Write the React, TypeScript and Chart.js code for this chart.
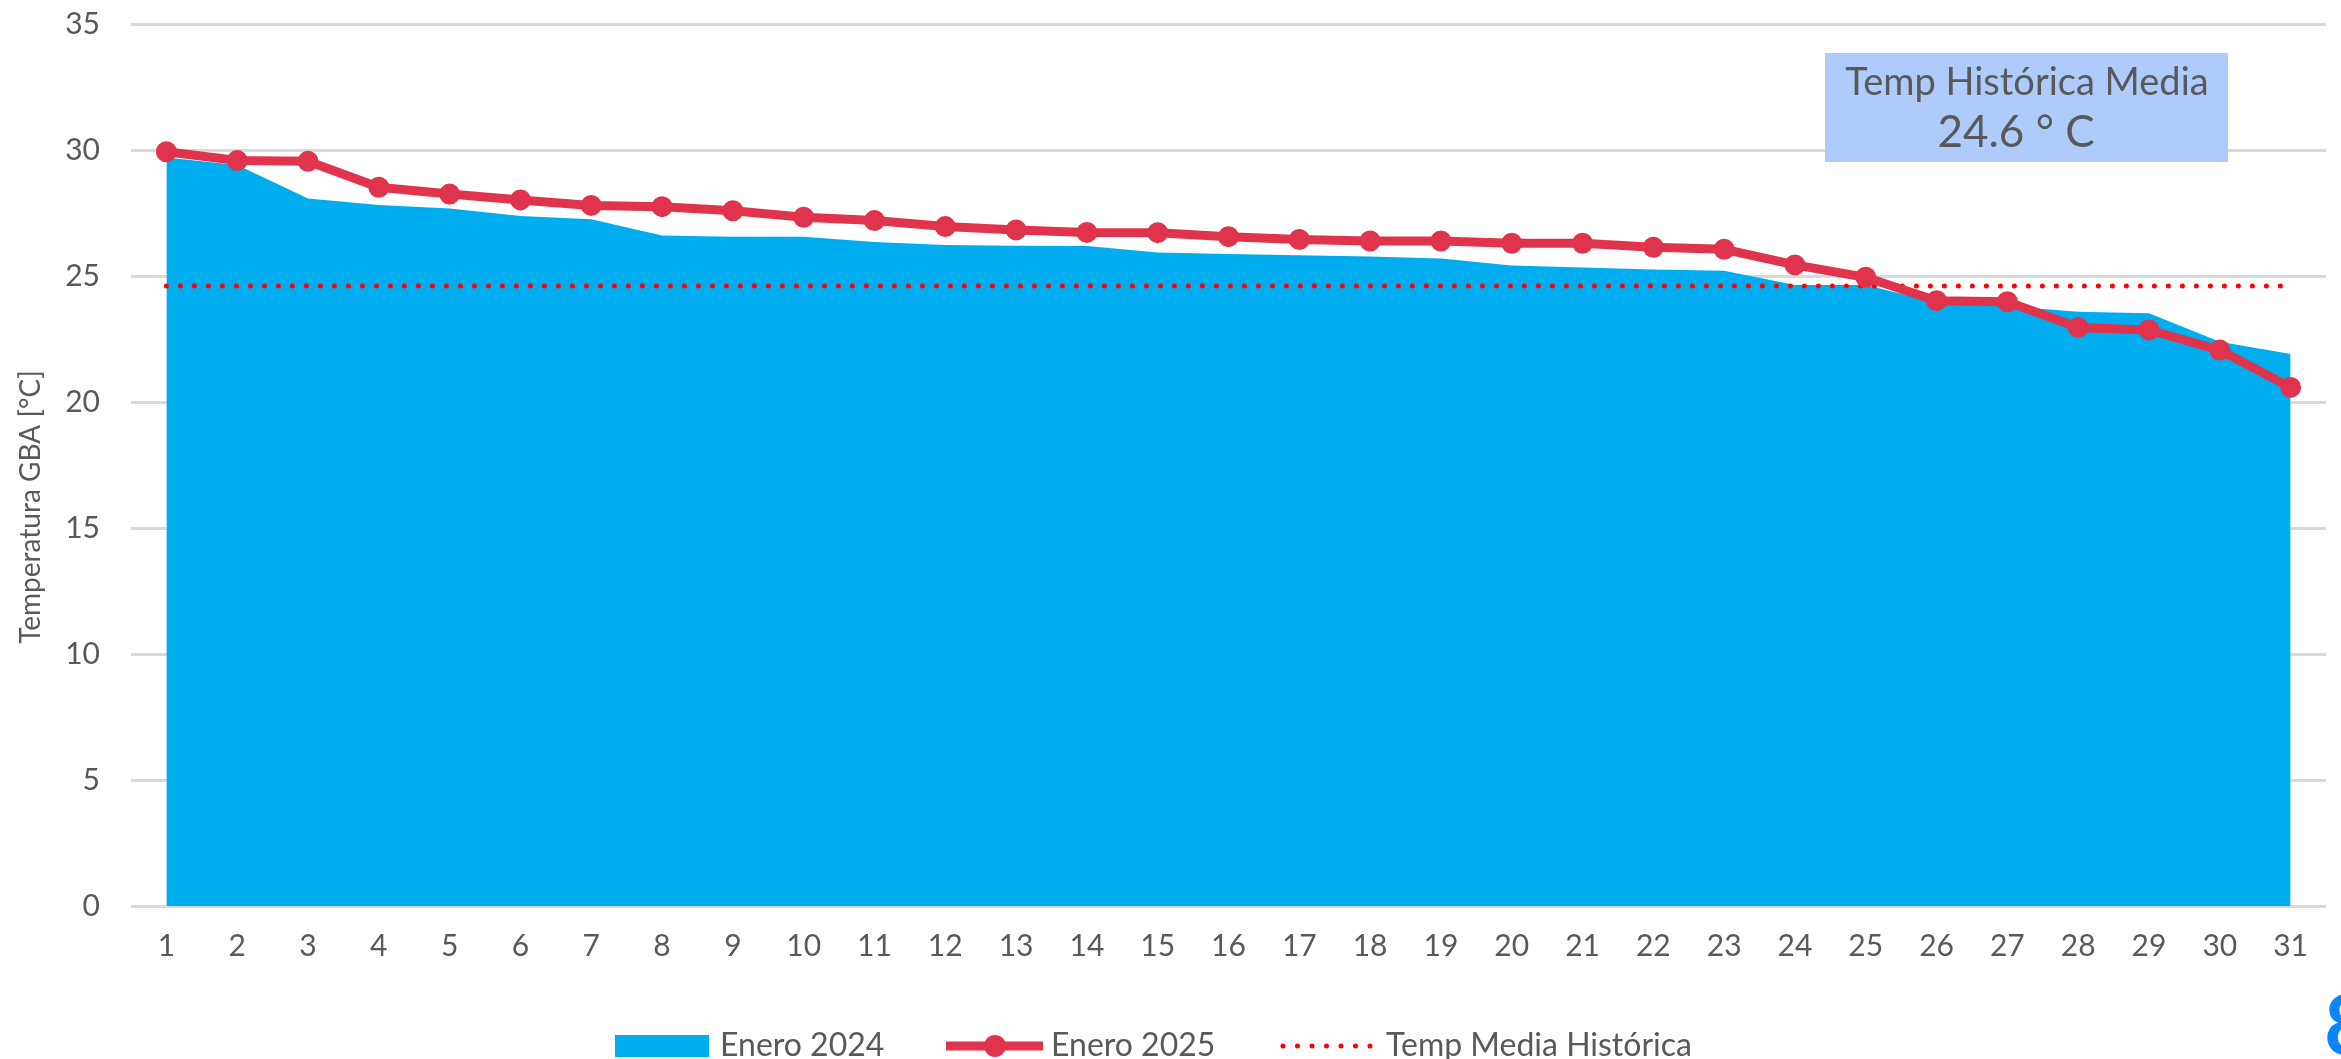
import React, { useEffect, useRef } from 'react';
import { Chart, registerables } from 'chart.js';

Chart.register(...registerables);

const days = ['1', '2', '3', '4', '5', '6', '7', '8', '9', '10', '11', '12', '13', '14', '15', '16', '17', '18', '19', '20', '21', '22', '23', '24', '25', '26', '27', '28', '29', '30', '31'];

const enero2024 = [29.7, 29.4, 28.08, 27.82, 27.68, 27.38, 27.25, 26.61, 26.56, 26.56, 26.35, 26.23, 26.2, 26.19, 25.93, 25.87, 25.82, 25.77, 25.69, 25.42, 25.34, 25.26, 25.21, 24.64, 24.64, 23.95, 23.8, 23.58, 23.52, 22.39, 21.9];

const enero2025 = [29.93, 29.58, 29.55, 28.52, 28.25, 28.02, 27.8, 27.75, 27.59, 27.33, 27.2, 26.96, 26.83, 26.73, 26.72, 26.56, 26.45, 26.39, 26.39, 26.3, 26.3, 26.14, 26.06, 25.44, 24.95, 24.02, 23.98, 22.96, 22.86, 22.06, 20.58];

const tempMediaHistorica = [24.6, 24.6, 24.6, 24.6, 24.6, 24.6, 24.6, 24.6, 24.6, 24.6, 24.6, 24.6, 24.6, 24.6, 24.6, 24.6, 24.6, 24.6, 24.6, 24.6, 24.6, 24.6, 24.6, 24.6, 24.6, 24.6, 24.6, 24.6, 24.6, 24.6, 24.6];

const seriesLabels = ['Enero 2024', 'Enero 2025', 'Temp Media Histórica'];
const axisTitle = 'Temperatura GBA [°C]';
const annotationTitle = 'Temp Histórica Media';
const annotationValue = '24.6 ° C';
const yMin = 0;
const yMax = 35;
const yStep = 5;

const FONT = 'Lato, "Open Sans", sans-serif';
const TEXT = '#595959';
const BLUE = '#00AEEF';
const RED = '#E0344C';
const DOT_RED = '#FF0000';
const GRID = '#D9D9D9';
const BOX = '#AFCBFC';
const LOGO = '#0A84FF';

const W = 2341;
const H = 1059;

const decorPlugin = {
  id: 'decor',
  afterDraw(chart: any) {
    const ctx = chart.ctx as CanvasRenderingContext2D;
    ctx.save();

    // Y axis title
    ctx.save();
    ctx.translate(31, 507);
    ctx.rotate(-Math.PI / 2);
    ctx.font = `28px ${FONT}`;
    ctx.fillStyle = TEXT;
    ctx.textAlign = 'center';
    ctx.textBaseline = 'middle';
    ctx.fillText(axisTitle, 0, 0);
    ctx.restore();

    // Annotation box
    ctx.fillStyle = BOX;
    ctx.fillRect(1825, 53, 403, 109);
    ctx.fillStyle = TEXT;
    ctx.textAlign = 'center';
    ctx.textBaseline = 'alphabetic';
    ctx.font = `38px ${FONT}`;
    ctx.fillText(annotationTitle, 2027, 95);
    ctx.font = `44px ${FONT}`;
    ctx.fillText(annotationValue, 2016, 147);

    // Legend
    const base = 1056;
    const mid = 1046;
    ctx.font = `32px ${FONT}`;
    ctx.textAlign = 'left';
    ctx.textBaseline = 'alphabetic';

    ctx.fillStyle = BLUE;
    ctx.fillRect(615, 1035, 94, 22);
    ctx.fillStyle = TEXT;
    ctx.fillText(seriesLabels[0], 720, base);

    ctx.strokeStyle = RED;
    ctx.lineWidth = 9;
    ctx.lineCap = 'butt';
    ctx.beginPath();
    ctx.moveTo(946, mid);
    ctx.lineTo(1043, mid);
    ctx.stroke();
    ctx.fillStyle = RED;
    ctx.beginPath();
    ctx.arc(995, mid, 11, 0, Math.PI * 2);
    ctx.fill();
    ctx.fillStyle = TEXT;
    ctx.fillText(seriesLabels[1], 1051, base);

    ctx.strokeStyle = DOT_RED;
    ctx.lineWidth = 5;
    ctx.lineCap = 'round';
    ctx.setLineDash([0, 14.5]);
    ctx.beginPath();
    ctx.moveTo(1283, mid);
    ctx.lineTo(1372, mid);
    ctx.stroke();
    ctx.setLineDash([]);
    ctx.fillStyle = TEXT;
    ctx.fillText(seriesLabels[2], 1386, base);

    // partial logo at the corner
    ctx.fillStyle = LOGO;
    ctx.font = `bold 84px ${FONT}`;
    ctx.textBaseline = 'top';
    ctx.fillText('8', 2324, 986);

    ctx.restore();
  },
};

export default function App() {
  const canvasRef = useRef<HTMLCanvasElement | null>(null);

  useEffect(() => {
    document.body.style.margin = '0';
    document.body.style.overflow = 'hidden';
    const canvas = canvasRef.current;
    if (!canvas) return;

    const chart = new Chart(canvas, {
      type: 'line',
      data: {
        labels: days,
        datasets: [
          {
            label: seriesLabels[0],
            data: enero2024,
            fill: 'origin',
            backgroundColor: BLUE,
            borderColor: BLUE,
            borderWidth: 0,
            pointRadius: 0,
            tension: 0,
            order: 3,
          },
          {
            label: seriesLabels[1],
            data: enero2025,
            fill: false,
            borderColor: RED,
            backgroundColor: RED,
            borderWidth: 9,
            pointRadius: 9.5,
            pointBorderWidth: 2,
            pointBorderColor: RED,
            pointBackgroundColor: RED,
            tension: 0,
            order: 1,
          },
          {
            label: seriesLabels[2],
            data: tempMediaHistorica,
            fill: false,
            borderColor: DOT_RED,
            borderWidth: 5,
            borderDash: [0, 14],
            borderCapStyle: 'round',
            pointRadius: 0,
            tension: 0,
            order: 2,
          },
        ],
      },
      options: {
        responsive: false,
        devicePixelRatio: 1,
        animation: false,
        layout: { padding: { top: 24, right: 15, left: 0, bottom: 0 } },
        plugins: {
          legend: { display: false },
          tooltip: { enabled: false },
          title: { display: false },
        },
        scales: {
          x: {
            type: 'category',
            offset: true,
            grid: { display: false, drawTicks: false },
            border: { display: false },
            ticks: {
              color: TEXT,
              font: { family: FONT, size: 30 },
              padding: 22,
              maxRotation: 0,
              autoSkip: false,
            },
            afterFit: (scale: any) => {
              scale.height = 153;
            },
          },
          y: {
            min: yMin,
            max: yMax,
            grid: { color: GRID, lineWidth: 3, drawTicks: false },
            border: { display: false },
            ticks: {
              stepSize: yStep,
              color: TEXT,
              font: { family: FONT, size: 30 },
              padding: 31,
            },
            afterFit: (scale: any) => {
              scale.width = 131;
              scale.paddingTop = 0;
              scale.paddingBottom = 0;
            },
          },
        },
      },
      plugins: [decorPlugin],
    });

    return () => {
      chart.destroy();
    };
  }, []);

  return (
    <div style={{ width: W, height: H, position: 'relative' }}>
      <canvas ref={canvasRef} width={W} height={H} style={{ display: 'block', width: W, height: H }} />
    </div>
  );
}
